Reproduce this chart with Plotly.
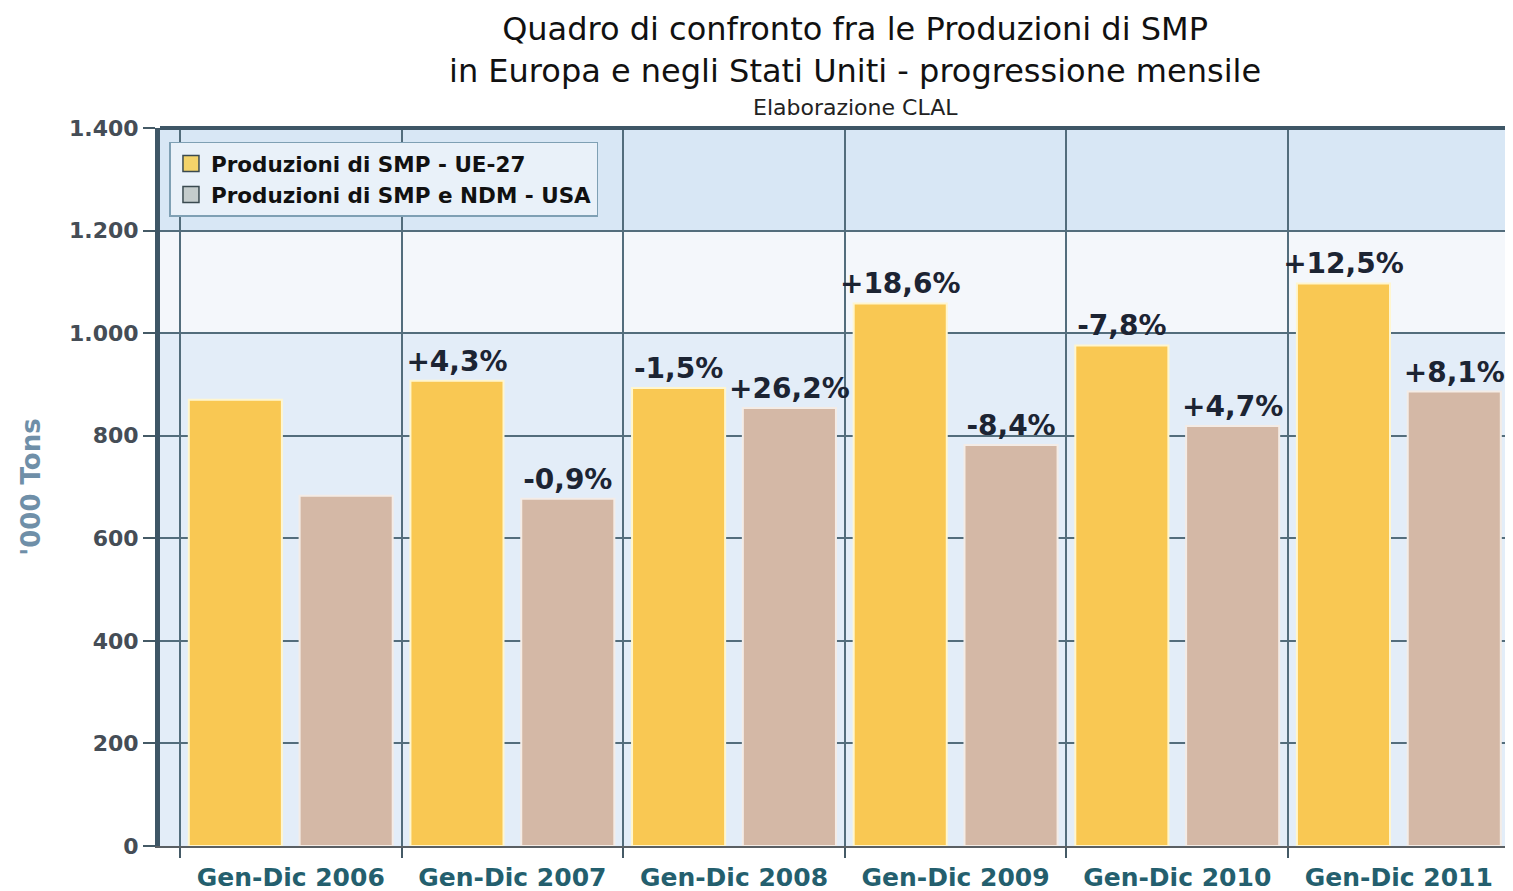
import plotly.graph_objects as go

categories = ["Gen-Dic 2006", "Gen-Dic 2007", "Gen-Dic 2008", "Gen-Dic 2009", "Gen-Dic 2010", "Gen-Dic 2011"]
eu_values = [870, 907, 893, 1058, 976, 1097]
usa_values = [683, 677, 854, 782, 819, 886]
eu_labels = ["", "+4,3%", "-1,5%", "+18,6%", "-7,8%", "+12,5%"]
usa_labels = ["", "-0,9%", "+26,2%", "-8,4%", "+4,7%", "+8,1%"]
eu_name = "Produzioni di SMP - UE-27"
usa_name = "Produzioni di SMP e NDM - USA"
y_tickvals = [0, 200, 400, 600, 800, 1000, 1200, 1400]
y_ticktext = ["0", "200", "400", "600", "800", "1.000", "1.200", "1.400"]
title_line1 = "Quadro di confronto fra le Produzioni di SMP"
title_line2 = "in Europa e negli Stati Uniti - progressione mensile"
subtitle = "Elaborazione CLAL"
y_title = "'000 Tons"

FONT = "DejaVu Sans"
label_font = dict(family=FONT, size=28, color="#1c2433", weight="bold")

fig = go.Figure()
fig.add_trace(go.Bar(
    x=categories, y=eu_values, name=eu_name, showlegend=False,
    marker=dict(color="#f9c853", line=dict(color="#fff6cf", width=2)),
    text=eu_labels, textposition="outside", textfont=label_font,
    constraintext="none", cliponaxis=False,
))
fig.add_trace(go.Bar(
    x=categories, y=usa_values, name=usa_name, showlegend=False,
    marker=dict(color="#d4b8a6", line=dict(color="#f4ece6", width=2)),
    text=usa_labels, textposition="outside", textfont=label_font,
    constraintext="none", cliponaxis=False,
))
# legend entries (swatches)
fig.add_trace(go.Scatter(x=[None], y=[None], mode="markers", name=eu_name,
                         marker=dict(symbol="square", size=16, color="#f3d36a",
                                     line=dict(color="#3a4a50", width=1.5))))
fig.add_trace(go.Scatter(x=[None], y=[None], mode="markers", name=usa_name,
                         marker=dict(symbol="square", size=16, color="#c4cccc",
                                     line=dict(color="#3a4a50", width=1.5))))

# background bands
fig.add_shape(type="rect", xref="paper", yref="y", x0=0, x1=1, y0=1200, y1=1400,
              fillcolor="#d8e7f5", line_width=0, layer="below")
fig.add_shape(type="rect", xref="paper", yref="y", x0=0, x1=1, y0=1000, y1=1200,
              fillcolor="#f4f7fb", line_width=0, layer="below")
fig.add_shape(type="rect", xref="paper", yref="y", x0=0, x1=1, y0=0, y1=1000,
              fillcolor="#e3edf8", line_width=0, layer="below")
# top border
fig.add_shape(type="line", xref="paper", yref="paper", x0=0, x1=1, y0=1, y1=1,
              line=dict(color="#3e5666", width=4))

fig.update_layout(
    width=1505, height=883,
    margin=dict(l=152, r=0, t=120, b=45),
    paper_bgcolor="white", plot_bgcolor="#e6eef8",
    barmode="group", bargap=0.0, bargroupgap=0.16,
    annotations=[
        dict(text=title_line1 + "<br>" + title_line2, xref="paper", yref="paper",
             x=0.514, y=1.1086, xanchor="center", yanchor="middle", showarrow=False,
             font=dict(family=FONT, size=32, color="#111111")),
        dict(text=subtitle, xref="paper", yref="paper", x=0.514, y=1.0279,
             xanchor="center", yanchor="middle", showarrow=False,
             font=dict(family=FONT, size=22, color="#222222")),
    ],
    legend=dict(x=0.007, y=0.981, xanchor="left", yanchor="top",
                bgcolor="#e9f1f9", bordercolor="#7fa0b4", borderwidth=1.5,
                font=dict(family=FONT, size=21.5, color="#111111", weight="bold"),
                tracegroupgap=0, itemsizing="trace"),
    xaxis=dict(
        type="category", range=[-0.59, 5.515], tickson="boundaries",
        showgrid=True, gridcolor="#536d7c", gridwidth=1.5,
        ticks="outside", ticklen=10, tickcolor="#455a66", tickwidth=1.5,
        ticklabelstandoff=8,
        showline=True, linecolor="#5a5f63", linewidth=2,
        tickfont=dict(family=FONT, size=25, color="#245f6e", weight="bold"),
    ),
    yaxis=dict(
        range=[0, 1400], tickvals=y_tickvals, ticktext=y_ticktext,
        showgrid=True, gridcolor="#536d7c", gridwidth=1.5,
        ticks="outside", ticklen=12, tickcolor="#455a66", tickwidth=1.5,
        ticklabelstandoff=0,
        showline=True, linecolor="#3e5666", linewidth=5,
        tickfont=dict(family=FONT, size=22, color="#454d56", weight="bold"),
        title=dict(text=y_title, standoff=22,
                   font=dict(family=FONT, size=26, color="#6f8fa8", weight="bold")),
        zeroline=False,
    ),
)

fig.write_html("out.html")
